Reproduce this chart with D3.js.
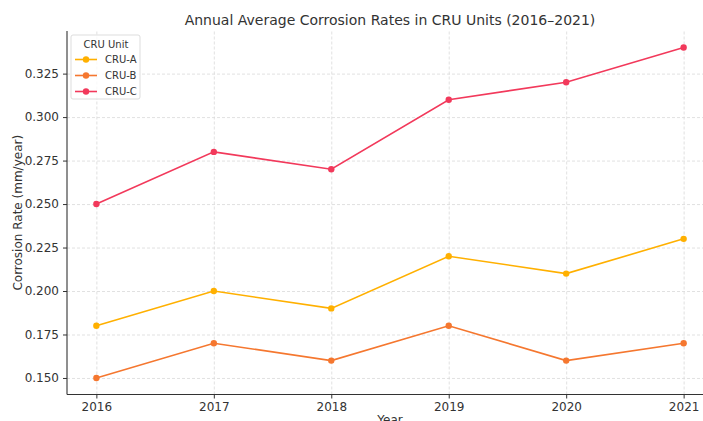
<!DOCTYPE html>
<html>
<head>
<meta charset="utf-8">
<title>Annual Average Corrosion Rates in CRU Units</title>
<script src="https://cdn.jsdelivr.net/npm/d3@7"></script>
<style>
    body { margin: 0; background: #fff; }
    text { font-family: "DejaVu Sans", sans-serif; fill: #333; }
    .grid line { stroke: #d9d9d9; stroke-dasharray: 3,2; stroke-width: 0.8; }
    .grid path { display: none; }
</style>
</head>
<body>
<script>
var years = [2016, 2017, 2018, 2019, 2020, 2021];
var cruA = [0.18, 0.20, 0.19, 0.22, 0.21, 0.23];
var cruB = [0.15, 0.17, 0.16, 0.18, 0.16, 0.17];
var cruC = [0.25, 0.28, 0.27, 0.31, 0.32, 0.34];
var yTicks = [0.150, 0.175, 0.200, 0.225, 0.250, 0.275, 0.300, 0.325];

var series = [
    {name: "CRU-A", values: cruA, color: "#ffb000"},
    {name: "CRU-B", values: cruB, color: "#f5772f"},
    {name: "CRU-C", values: cruC, color: "#f2395b"}
];

var w = 703, h = 421,
    pLeft = 67, pTop = 31, pRight = 713, pBottom = 394.5;

var x = d3.scaleLinear().domain([2015.75, 2021.25]).range([pLeft, pRight]);
var y = d3.scaleLinear().domain([0.1405, 0.3495]).range([pBottom, pTop]);

var svg = d3.select("body").append("svg")
    .attr("width", w).attr("height", h);

// grid
svg.append("g").attr("class", "grid")
    .attr("transform", "translate(0," + pBottom + ")")
    .call(d3.axisBottom(x).tickValues(years).tickSize(-(pBottom - pTop)).tickFormat(""));
svg.append("g").attr("class", "grid")
    .attr("transform", "translate(" + pLeft + ",0)")
    .call(d3.axisLeft(y).tickValues(yTicks).tickSize(-(pRight - pLeft)).tickFormat(""));

// axes
var xAxis = svg.append("g")
    .attr("transform", "translate(0," + pBottom + ")")
    .call(d3.axisBottom(x).tickValues(years).tickFormat(d3.format("d")).tickSize(4).tickPadding(4));
var yAxis = svg.append("g")
    .attr("transform", "translate(" + pLeft + ",0)")
    .call(d3.axisLeft(y).tickValues(yTicks).tickFormat(d3.format(".3f")).tickSize(4).tickPadding(4));

[xAxis, yAxis].forEach(function (a) {
    a.select(".domain").attr("stroke", "#333").attr("stroke-width", 1.1);
    a.selectAll(".tick line").attr("stroke", "#333");
    a.selectAll(".tick text").style("font-size", "12px").attr("fill", "#333");
});
xAxis.select(".domain").attr("d", "M" + pLeft + ",0H" + pRight);
yAxis.select(".domain").attr("d", "M0," + pTop + "V" + pBottom);

// lines
var line = d3.line()
    .x(function (d, i) { return x(years[i]); })
    .y(function (d) { return y(d); });

series.forEach(function (s) {
    svg.append("path")
        .datum(s.values)
        .attr("fill", "none")
        .attr("stroke", s.color)
        .attr("stroke-width", 1.6)
        .attr("d", line);
    svg.selectAll(null)
        .data(s.values)
        .enter().append("circle")
        .attr("cx", function (d, i) { return x(years[i]); })
        .attr("cy", function (d) { return y(d); })
        .attr("r", 3.2)
        .attr("fill", s.color);
});

// titles
svg.append("text")
    .attr("x", 390).attr("y", 25)
    .attr("text-anchor", "middle")
    .style("font-size", "14px")
    .text("Annual Average Corrosion Rates in CRU Units (2016\u20132021)");

svg.append("text")
    .attr("x", 390).attr("y", 424)
    .attr("text-anchor", "middle")
    .style("font-size", "12px")
    .text("Year");

svg.append("text")
    .attr("transform", "translate(22," + ((pTop + pBottom) / 2) + ") rotate(-90)")
    .attr("text-anchor", "middle")
    .style("font-size", "12px")
    .text("Corrosion Rate (mm/year)");

// legend
var lg = svg.append("g").attr("transform", "translate(71,35)");
lg.append("rect")
    .attr("width", 69).attr("height", 64).attr("rx", 2)
    .attr("fill", "#fff").attr("fill-opacity", 0.8)
    .attr("stroke", "#ddd");
lg.append("text")
    .attr("x", 35).attr("y", 13)
    .attr("text-anchor", "middle")
    .style("font-size", "10px")
    .text("CRU Unit");
series.forEach(function (s, i) {
    var yy = 24.5 + i * 16;
    lg.append("line")
        .attr("x1", 4).attr("x2", 26).attr("y1", yy).attr("y2", yy)
        .attr("stroke", s.color).attr("stroke-width", 1.6);
    lg.append("circle")
        .attr("cx", 15).attr("cy", yy).attr("r", 3.2).attr("fill", s.color);
    lg.append("text")
        .attr("x", 34).attr("y", yy + 3.5)
        .style("font-size", "10px")
        .text(s.name);
});
</script>
</body>
</html>
